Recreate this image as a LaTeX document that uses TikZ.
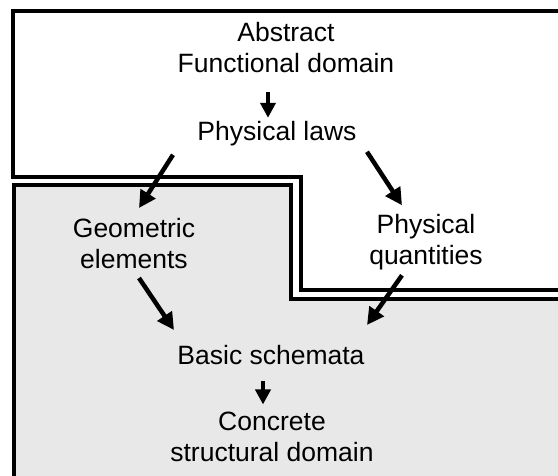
\documentclass[tikz,border=0pt]{standalone}
\usepackage{fontspec}
\setmainfont{Liberation Sans}
\usetikzlibrary{arrows.meta}
\definecolor{panelgray}{RGB}{232,232,232}
\tikzset{
  lbl/.style={inner sep=0pt, align=center, font=\fontsize{26.5}{31}\selectfont},
  border/.style={line width=4pt, line join=miter},
  bigarrow/.style={line width=4.5pt, -{Triangle[length=17pt,width=17pt]}},
  smallarrow/.style={line width=4pt, -{Triangle[length=15pt,width=15pt]}}
}
\begin{document}
\begin{tikzpicture}[x=1pt,y=-1pt]
\useasboundingbox (0,0) rectangle (558,476);
% lower (structural) region
\fill[panelgray] (14,185.5) -- (291,185.5) -- (291,299.5) -- (558,299.5) -- (558,476) -- (14,476) -- cycle;
\draw[border] (558,299.5) -- (291,299.5) -- (291,185.5) -- (14,185.5) -- (14,476);
% upper (functional) region
\draw[border] (558,11) -- (12.5,11) -- (12.5,177.5) -- (301,177.5) -- (301,290) -- (558,290);
% texts
\node[lbl] (top) at (286,47.8) {Abstract\\Functional domain};
\node[lbl] (laws) at (277,133.8) {Physical laws};
\node[lbl] (geo) at (134,243.5) {Geometric\\elements};
\node[lbl] (phys) at (426,242.3) {Physical\\quantities};
\node[lbl] (basic) at (271,355) {Basic schemata};
\node[lbl] (conc) at (272,436.5) {Concrete\\structural domain};
% arrows
\draw[smallarrow] ([shift={(-18,44)}]top.center) -- ([shift={(-9,-16)}]laws.center);
\draw[bigarrow] ([shift={(-104,21)}]laws.center) -- ([shift={(5,-35.5)}]geo.center);
\draw[bigarrow] ([shift={(90,18)}]laws.center) -- ([shift={(-24,-37)}]phys.center);
\draw[bigarrow] ([shift={(5,34.5)}]geo.center) -- ([shift={(-97,-25)}]basic.center);
\draw[bigarrow] ([shift={(-24,33)}]phys.center) -- ([shift={(96,-30)}]basic.center);
\draw[smallarrow] ([shift={(-8,26)}]basic.center) -- ([shift={(-9,-32)}]conc.center);
\end{tikzpicture}
\end{document}
